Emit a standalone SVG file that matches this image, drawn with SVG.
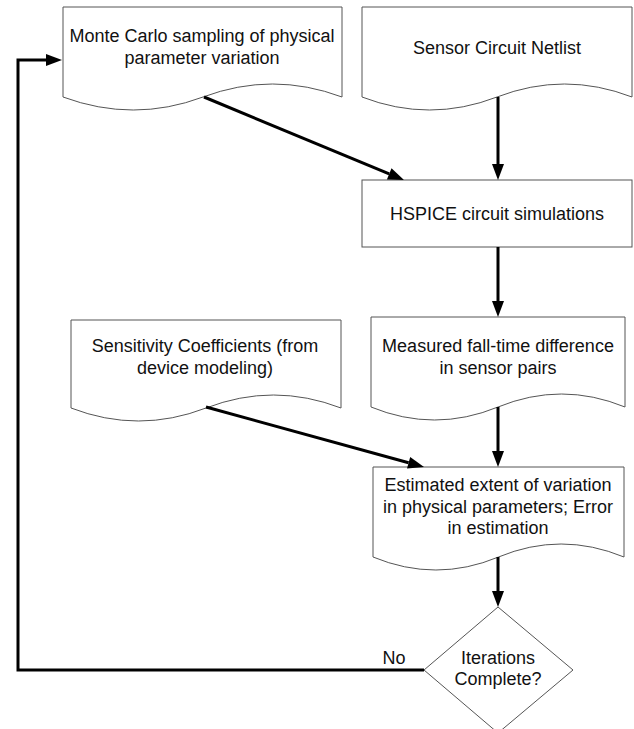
<svg xmlns="http://www.w3.org/2000/svg" width="634" height="729" viewBox="0 0 634 729">
<style>
.shape{fill:#fff;stroke:#555;stroke-width:1}
.t{font-family:"Liberation Sans",Arial,sans-serif;font-size:18px;fill:#111;text-anchor:middle}
.c{fill:none;stroke:#000;stroke-width:3}
</style>
<defs>
<marker id="ah" markerUnits="userSpaceOnUse" markerWidth="16" markerHeight="12" refX="0" refY="6" orient="auto" overflow="visible">
<path d="M0,0 L16,6 L0,12 z" fill="#000"/>
</marker>
</defs>
<rect width="634" height="729" fill="#fff"/>
<g id="monte-carlo">
<path class="shape" d="M63,7 H342 V97 Q272.5,71 203,97 T63,97 Z"/>
<text class="t" x="202" y="41.5">Monte Carlo sampling of physical</text>
<text class="t" x="202" y="63.5">parameter variation</text>
</g>
<g id="netlist">
<path class="shape" d="M362,7 H632 V97 Q564.5,71 497,97 T362,97 Z"/>
<text class="t" x="497" y="53.5">Sensor Circuit Netlist</text>
</g>
<g id="hspice">
<rect class="shape" x="362" y="180" width="270" height="67"/>
<text class="t" x="497" y="219.5">HSPICE circuit simulations</text>
</g>
<g id="sensitivity">
<path class="shape" d="M71,320 H341 V408 Q273.5,382 206,408 T71,408 Z"/>
<text class="t" x="205" y="351.5">Sensitivity Coefficients (from</text>
<text class="t" x="205" y="373.5">device modeling)</text>
</g>
<g id="measured">
<path class="shape" d="M371,317 H625 V407 Q561.5,381 498,407 T371,407 Z"/>
<text class="t" x="498" y="351.5">Measured fall-time difference</text>
<text class="t" x="498" y="373.5">in sensor pairs</text>
</g>
<g id="estimated">
<path class="shape" d="M373,467 H624 V557 Q561,531 498.5,557 T373,557 Z"/>
<text class="t" x="498" y="490.5">Estimated extent of variation</text>
<text class="t" x="498" y="512.5">in physical parameters; Error</text>
<text class="t" x="498" y="533.5">in estimation</text>
</g>
<g id="decision">
<polygon class="shape" points="498,607 573,670 498,733 424,670"/>
<text class="t" x="498" y="663.5">Iterations</text>
<text class="t" x="498" y="684.5">Complete?</text>
</g>
<g id="connectors">
<line class="c" x1="204" y1="97" x2="389.2" y2="173.9" marker-end="url(#ah)"/>
<line class="c" x1="498" y1="97" x2="498" y2="164" marker-end="url(#ah)"/>
<line class="c" x1="498" y1="247" x2="498" y2="301" marker-end="url(#ah)"/>
<line class="c" x1="498" y1="407" x2="498" y2="451" marker-end="url(#ah)"/>
<line class="c" x1="206" y1="407" x2="408.6" y2="462.75" marker-end="url(#ah)"/>
<line class="c" x1="498" y1="557" x2="498" y2="591" marker-end="url(#ah)"/>
<polyline class="c" points="424,670 18,670 18,60 46,60" marker-end="url(#ah)"/>
<text class="t" x="394" y="663.5">No</text>
</g>
</svg>
